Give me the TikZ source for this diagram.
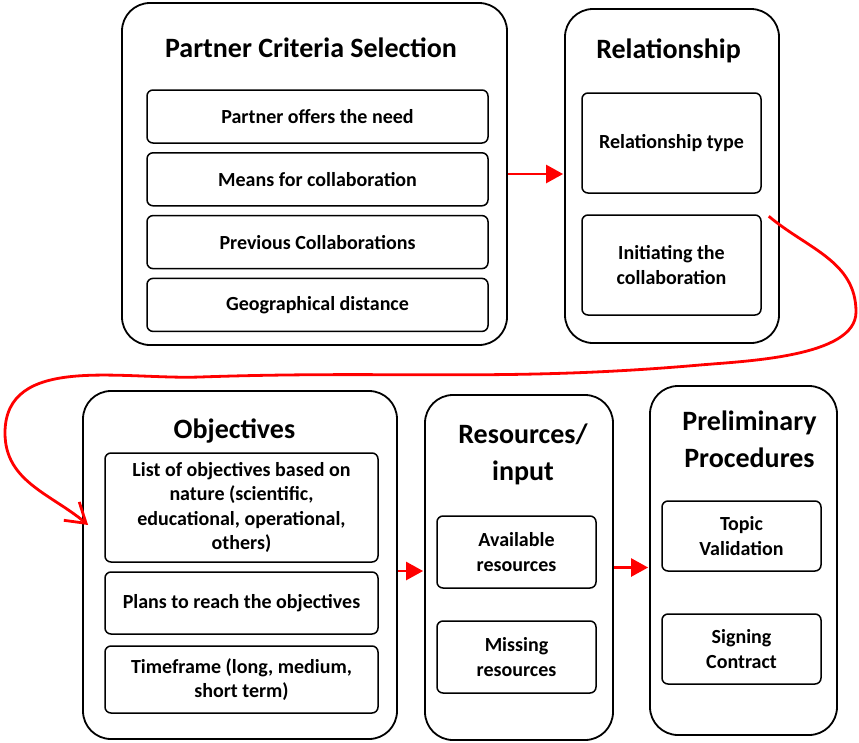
\documentclass[tikz,border=0pt]{standalone}
\usepackage{fontspec}
\setmainfont{Carlito}
\usetikzlibrary{arrows.meta}

\begin{document}
\begin{tikzpicture}[x=1pt, y=-1pt,
  stage/.style={draw, line width=1.8pt, rounded corners=28pt, inner sep=0pt},
  item/.style={draw, line width=1.5pt, rounded corners=6pt, align=center, inner sep=2pt,
    font=\fontsize{20}{24.5}\selectfont\bfseries},
  head/.style={anchor=base, align=center, font=\fontsize{28}{36.5}\selectfont\bfseries},
  flow/.style={red, line width=2.6pt, shorten >=1pt, -{Triangle[length=17pt,width=18pt]}},
  backflow/.style={red, line width=2.8pt, -{Straight Barb[length=19pt,width=24pt,line width=2.8pt]}}]
  \useasboundingbox (0,0) rectangle (859,742);
  % (a) upper row: partner criteria and relationship
  \node[stage, minimum width=385pt, minimum height=342pt] (pcs) at (314.5,174) {};
  \node[head] (pcs-t) at (311,57) {Partner Criteria Selection};
  \foreach \txt [count=\i from 0] in {Partner offers the need, Means for collaboration,
      Previous Collaborations, Geographical distance}
    \node[item, minimum width=341pt, minimum height=53pt] (pcs-\i) at (317.5, 116.5+62.8*\i) {\txt};
  \node[stage, minimum width=214pt, minimum height=334pt] (rel) at (672,176) {};
  \node[head] (rel-t) at (668.5,58) {Relationship};
  \node[item, minimum width=179pt, minimum height=100pt] (rel-1) at (671.5,143) {Relationship type};
  \node[item, minimum width=179pt, minimum height=100pt] (rel-2) at (671.5,265) {Initiating the\\collaboration};
  % (b) lower row: objectives, resources, preliminary procedures (head base = last line)
  \node[stage, minimum width=314pt, minimum height=348pt] (obj) at (240,565) {};
  \node[head] (obj-t) at (234.5,438) {Objectives};
  \node[item, minimum width=273pt, minimum height=109pt] (obj-1) at (241.5,507.5)
    {List of objectives based on\\nature (scientific,\\educational, operational,\\others)};
  \node[item, minimum width=273pt, minimum height=62pt] (obj-2) at (241.5,603) {Plans to reach the objectives};
  \node[item, minimum width=273pt, minimum height=67pt] (obj-3) at (241.5,679.5) {Timeframe (long, medium,\\short term)};
  \node[stage, minimum width=188pt, minimum height=345pt] (res) at (519,567.5) {};
  \node[head] (res-t) at (523,480) {Resources/\\input};
  \node[item, minimum width=159pt, minimum height=72pt] (res-1) at (516.5,552) {Available\\resources};
  \node[item, minimum width=159pt, minimum height=72pt] (res-2) at (516.5,657) {Missing\\resources};
  \node[stage, minimum width=187pt, minimum height=349pt] (pre) at (743.5,560.5) {};
  \node[head] (pre-t) at (749.5,467) {Preliminary\\Procedures};
  \node[item, minimum width=159pt, minimum height=70pt] (pre-1) at (741.5,536) {Topic\\Validation};
  \node[item, minimum width=159pt, minimum height=70pt] (pre-2) at (741.5,649) {Signing\\Contract};
  % the flow between the stages
  \draw[flow] (pcs.east) -- (pcs.east -| rel.west);
  \draw[flow] ([yshift=-6pt]obj.east) -- ([yshift=-6pt]obj.east -| res.west);
  \draw[flow] (res.east) -- (res.east -| pre.west);
  \coordinate (c-start) at ([xshift=7pt,yshift=-2pt]rel-2.north east);
  \coordinate (c-end) at ([xshift=6pt,yshift=40pt]obj.west);
  \draw[backflow] (c-start) to[out=-40,in=90] (856,312) to[out=-90,in=5,looseness=0.7] (700,365)
    to[out=185,in=2] (200,377) to[out=182,in=90] (5,433) to[out=-90,in=140] (c-end);
\end{tikzpicture}
\end{document}
